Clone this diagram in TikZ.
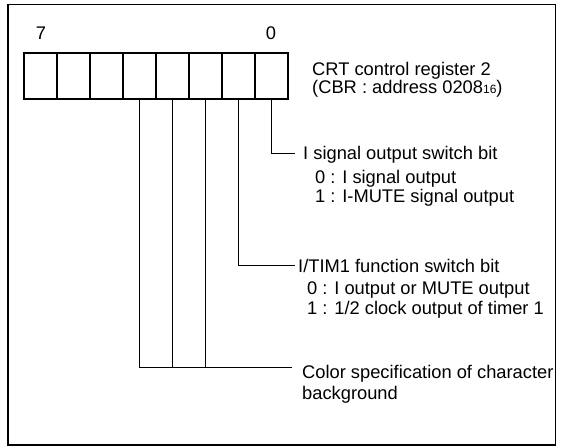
\documentclass[tikz,border=0pt]{standalone}
\usepackage{fontspec}
\setmainfont{Liberation Sans}
\begin{document}
\begin{tikzpicture}[x=1pt,y=-1pt,
  lbl/.style={anchor=base west,inner sep=0pt,font=\fontsize{18.3}{21}\selectfont},
  digit/.style={anchor=center,inner sep=0pt,font=\fontsize{18.3}{21}\selectfont},
  bitcell/.style={draw,line width=1.4pt,minimum width=33pt,minimum height=46pt,inner sep=0pt,outer sep=0pt},
  conn/.style={line width=0.9pt},
  frame/.style={line width=1.6pt}]
\fill[white] (0,0) rectangle (561,447);
\useasboundingbox (0,0) rectangle (561,447);
\draw[frame] (8,4.5) rectangle (555.5,445);
% register cells
\foreach \i in {0,...,7} \node[bitcell] (b\i) at ({271.5-33*\i},76) {};
\draw[line width=2pt] (b7.north west) rectangle (b0.south east);
\node[digit] (n7) at (41,33) {7};
\node[digit] (n0) at (271,33) {0};
% register name
\node[lbl] (t1) at (312,75.5) {CRT control register 2};
\node[lbl] (t2) at (312,93.5) {(CBR : address 0208{\fontsize{12}{12}\selectfont 16})};
% bit 0
\node[lbl] (h0) at (303,159.5) {I signal output switch bit};
\node[lbl] (h0a) at (315,183) {0 : I signal output};
\node[lbl] (h0b) at (315,202.5) {1 : I-MUTE signal output};
% bit 1
\node[lbl] (h1) at (298,272.5) {I/TIM1 function switch bit};
\node[lbl] (h1a) at (307,294.5) {0 : I output or MUTE output};
\node[lbl] (h1b) at (307,314.5) {1 : 1/2 clock output of timer 1};
% bits 2-4
\node[lbl] (h2) at (302,378.5) {Color specification of character};
\node[lbl] (h2a) at (302,399.5) {background};
% connector ends
\coordinate (e0) at (295,153);
\coordinate (e1) at (295,265);
\coordinate (e2) at (292,367);
\draw[conn] (b0.south) |- (e0);
\draw[conn] (b1.south) |- (e1);
\draw[conn] (b4.south) |- (e2);
\draw[conn] (b3.south) -- (b3.south |- e2);
\draw[conn] (b2.south) -- (b2.south |- e2);
\end{tikzpicture}
\end{document}
